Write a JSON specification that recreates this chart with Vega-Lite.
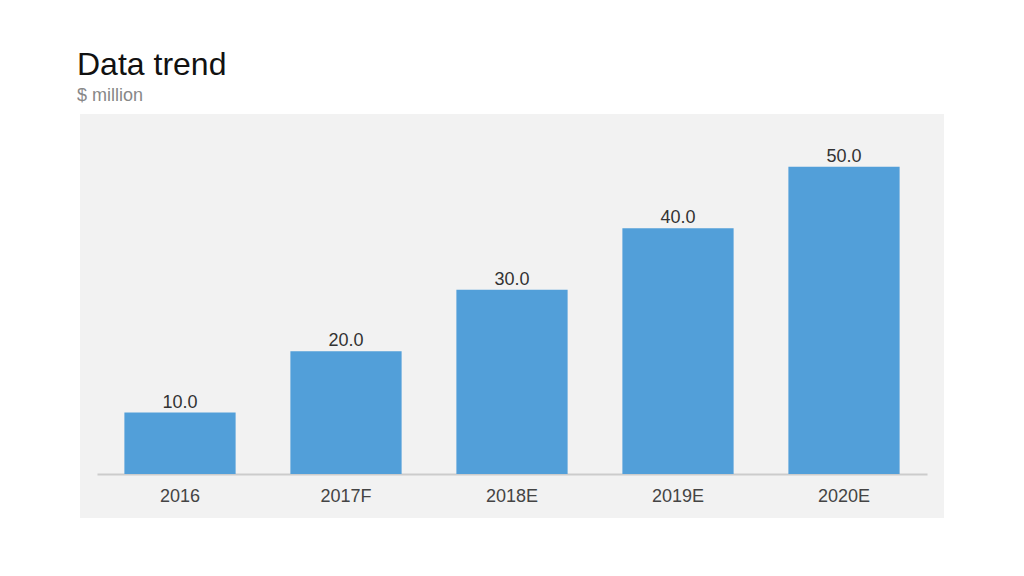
{
  "$schema": "https://vega.github.io/schema/vega-lite/v6.json",
  "autosize": {"type": "none"},
  "width": 864,
  "height": 404,
  "padding": {"left": 80, "top": 114, "right": 80, "bottom": 58},
  "background": "white",
  "title": {
    "text": "Data trend",
    "subtitle": "$ million",
    "anchor": "start",
    "frame": "group",
    "dx": -3,
    "fontSize": 32,
    "font": "Liberation Sans",
    "fontWeight": "normal",
    "color": "#111111",
    "subtitleFont": "Liberation Sans",
    "subtitleFontSize": 18,
    "subtitleColor": "#888888",
    "subtitlePadding": 5,
    "offset": 8
  },
  "data": {
    "values": [
      {"year": "2016", "value": 10.0},
      {"year": "2017F", "value": 20.0},
      {"year": "2018E", "value": 30.0},
      {"year": "2019E", "value": 40.0},
      {"year": "2020E", "value": 50.0}
    ]
  },
  "encoding": {
    "x": {
      "field": "year",
      "type": "nominal",
      "sort": null,
      "scale": {"range": [17, 847], "paddingInner": 0.33, "paddingOuter": 0.165},
      "axis": {
        "title": null,
        "orient": "bottom",
        "offset": -44,
        "labelAngle": 0,
        "ticks": false,
        "domain": true,
        "domainColor": "#cccccc",
        "domainWidth": 2,
        "labelPadding": 13,
        "labelFont": "Liberation Sans",
        "labelFontSize": 18,
        "labelColor": "#444444",
        "grid": false
      }
    },
    "y": {
      "field": "value",
      "type": "quantitative",
      "scale": {"domain": [0, 58.6], "range": [360, 0], "nice": false, "zero": true},
      "axis": null
    }
  },
  "layer": [
    {"mark": {"type": "bar", "color": "#529fd9"}},
    {
      "mark": {"type": "text", "dy": -5, "baseline": "alphabetic", "font": "Liberation Sans", "fontSize": 18, "color": "#333333"},
      "encoding": {"text": {"field": "value", "type": "quantitative", "format": ".1f"}}
    }
  ],
  "config": {
    "view": {"fill": "#f2f2f2", "stroke": null}
  }
}
